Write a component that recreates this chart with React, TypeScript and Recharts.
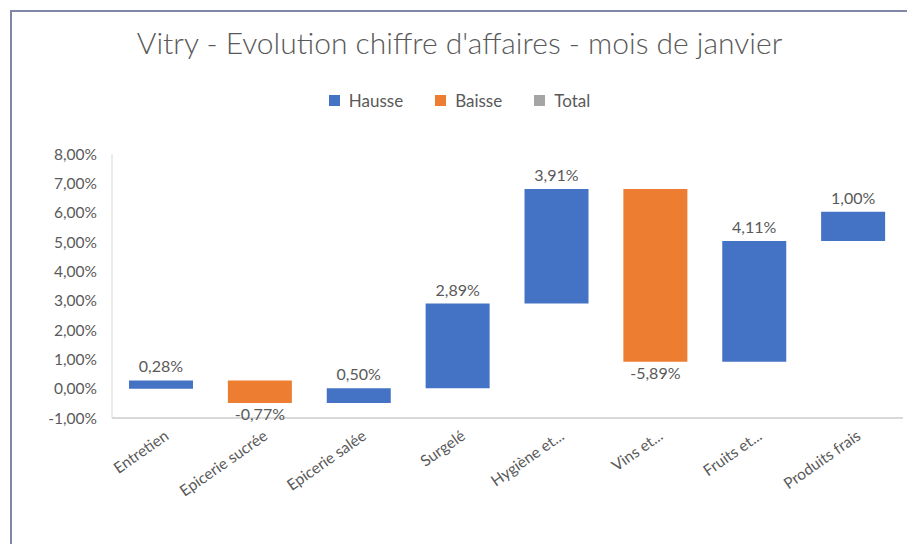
import React from 'react';
import { BarChart, Bar, XAxis, YAxis, Cell, LabelList } from 'recharts';

const categories = ['Entretien', 'Epicerie sucrée', 'Epicerie salée', 'Surgelé', 'Hygiène et...', 'Vins et...', 'Fruits et...', 'Produits frais'];
const deltas = [0.28, -0.77, 0.5, 2.89, 3.91, -5.89, 4.11, 1.0];
const yTicks = [-1, 0, 1, 2, 3, 4, 5, 6, 7, 8];
const legendItems = [
  { name: 'Hausse', color: '#4472C4' },
  { name: 'Baisse', color: '#ED7D31' },
  { name: 'Total', color: '#A5A5A5' },
];

const fmt = (v: number) => v.toFixed(2).replace('.', ',') + '%';

const rows = (() => {
  let cum = 0;
  return categories.map((c, i) => {
    const start = cum;
    const end = cum + deltas[i];
    cum = end;
    return {
      name: c,
      range: [Math.min(start, end), Math.max(start, end)],
      labelText: fmt(deltas[i]),
      up: deltas[i] >= 0,
    };
  });
})();

const FONT = 'Lato, "Open Sans", sans-serif';

const XTick = (props: any) => {
  const { x, y, payload } = props;
  return (
    <g transform={`translate(${x + 6},${y + 9})`}>
      <text textAnchor="end" transform="rotate(-35)" fill="#595959" fontSize={15.5} fontFamily={FONT} dy={4}>
        {payload.value}
      </text>
    </g>
  );
};

const DataLabel = (props: any) => {
  const { x, y, width, height, value } = props;
  const neg = String(value).startsWith('-');
  const cx = Number(x) + Number(width) / 2;
  const ty = neg ? Number(y) + Number(height) + 17 : Number(y) - 8;
  return (
    <text x={cx} y={ty} textAnchor="middle" fill="#595959" fontSize={16} fontFamily={FONT}>
      {value}
    </text>
  );
};

export default function App() {
  return (
    <div style={{ position: 'absolute', left: 0, top: 0, width: 907, height: 544, overflow: 'hidden', background: '#fff', fontFamily: FONT }}>
      <div style={{ position: 'absolute', left: 10, top: 10, width: 920, height: 560, border: '2px solid #7f86a8', boxSizing: 'border-box' }} />
      <div style={{ position: 'absolute', left: 12, right: 0, top: 24, textAlign: 'center', fontSize: 30, fontWeight: 300, color: '#595959' }}>
        Vitry - Evolution chiffre d'affaires - mois de janvier
      </div>
      <div style={{ position: 'absolute', left: 12, right: 0, top: 90, display: 'flex', justifyContent: 'center', gap: 32, fontSize: 17, color: '#595959' }}>
        {legendItems.map((it) => (
          <div key={it.name} style={{ display: 'flex', alignItems: 'center', gap: 9 }}>
            <span style={{ width: 11, height: 11, background: it.color, display: 'inline-block' }} />
            <span>{it.name}</span>
          </div>
        ))}
      </div>
      <div style={{ position: 'absolute', left: 0, top: 0 }}>
        <BarChart width={907} height={544} data={rows} margin={{ top: 154, right: 4, bottom: 0, left: 0 }} barSize={64}>
          <YAxis
            width={112}
            domain={[-1, 8]}
            ticks={yTicks}
            tickFormatter={fmt}
            tickLine={false}
            tickSize={0}
            tickMargin={15}
            axisLine={{ stroke: '#d9d9d9' }}
            tick={{ fill: '#595959', fontSize: 15.5, fontFamily: FONT }}
            interval={0}
          />
          <XAxis
            dataKey="name"
            interval={0}
            tickLine={false}
            axisLine={{ stroke: '#d9d9d9', strokeWidth: 2 }}
            tick={<XTick />}
            height={126}
          />
          <Bar dataKey="range" isAnimationActive={false}>
            {rows.map((r, i) => (
              <Cell key={i} fill={r.up ? '#4472C4' : '#ED7D31'} />
            ))}
            <LabelList dataKey="labelText" content={<DataLabel />} />
          </Bar>
        </BarChart>
      </div>
    </div>
  );
}
